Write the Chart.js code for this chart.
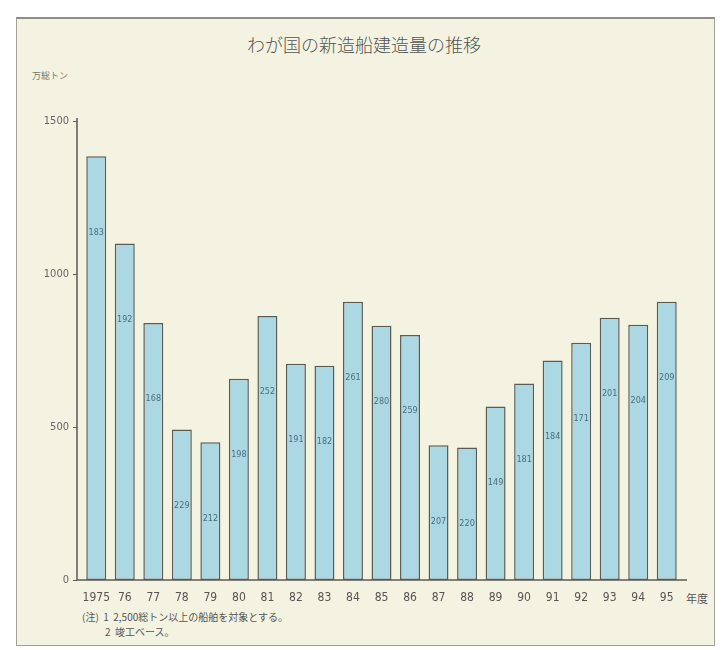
<!DOCTYPE html>
<html><head><meta charset="utf-8">
<script src="https://cdn.jsdelivr.net/npm/chart.js@4/dist/chart.umd.min.js"></script>
<style>
html,body{margin:0;padding:0;background:#fff;width:722px;height:650px;overflow:hidden;font-family:"Noto Sans CJK JP",sans-serif;}
#frame{position:absolute;left:16px;top:17px;width:699px;height:629px;background:#f4f3e1;border:1px solid #a2a298;border-top:2px solid #8e8e86;box-sizing:border-box;}
#wrap{position:absolute;left:0;top:0;width:722px;height:650px;}
.t{position:absolute;white-space:nowrap;color:#555;line-height:1;}
#title{left:0;width:728px;top:35px;text-align:center;font-size:18px;color:#555;font-weight:300;}
#unit{left:32px;top:71px;font-size:9px;color:#777;}
#nendo{left:686px;top:593px;font-size:11px;color:#555;}
#n1{left:82px;top:612px;font-size:10px;}
#n2{left:105px;top:627px;font-size:10px;}
</style></head>
<body>
<div id="frame"></div>
<div class="t" id="title">わが国の新造船建造量の推移</div>
<div class="t" id="unit">万総トン</div>
<div class="t" id="nendo">年度</div>
<div class="t" id="n1">(注)&nbsp; 1&nbsp; 2,500総トン以上の船舶を対象とする。</div>
<div class="t" id="n2">2&nbsp; 竣工ベース。</div>
<div id="wrap"><canvas id="c" width="722" height="650"></canvas></div>
<script>
const years = ['1975','76','77','78','79','80','81','82','83','84','85','86','87','88','89','90','91','92','93','94','95'];
const tonnage = [1385,1100,840,492,450,658,863,707,700,909,831,801,440,433,567,642,717,775,857,834,909];
const shipCounts = ['183','192','168','229','212','198','252','191','182','261','280','259','207','220','149','181','184','171','201','204','209'];
const yTickValues = [0,500,1000,1500];
const yTickLabels = ['0','500','1000','1500'];

const axisPlugin = {
  id: 'axisLines',
  afterDatasetsDraw(chart) {
    const ctx = chart.ctx;
    const y = chart.scales.y;
    const area = chart.chartArea;
    const axX = area.left - 5;
    ctx.save();
    ctx.strokeStyle = '#5a5a55';
    ctx.lineWidth = 1.5;
    ctx.beginPath();
    ctx.moveTo(axX, y.getPixelForValue(1500) - 3);
    ctx.lineTo(axX, y.getPixelForValue(0));
    ctx.lineTo(area.right + 6, y.getPixelForValue(0));
    ctx.stroke();
    ctx.lineWidth = 1;
    yTickValues.forEach(v => {
      const py = Math.round(y.getPixelForValue(v)) + 0.5;
      ctx.beginPath();
      ctx.moveTo(axX - 4, py);
      ctx.lineTo(axX, py);
      ctx.stroke();
    });
    const meta = chart.getDatasetMeta(0);
    ctx.fillStyle = '#4d6c80';
    ctx.font = '9px "DejaVu Sans Condensed", sans-serif';
    ctx.textAlign = 'center';
    ctx.textBaseline = 'middle';
    meta.data.forEach((bar, i) => {
      ctx.fillText(shipCounts[i], bar.x, bar.y + 76);
    });
    ctx.restore();
  }
};

new Chart(document.getElementById('c'), {
  type: 'bar',
  data: {
    labels: years,
    datasets: [{
      data: tonnage,
      backgroundColor: '#acd8e3',
      borderColor: '#5b5d55',
      borderWidth: 1.5,
      borderSkipped: false,
      barPercentage: 0.70,
      categoryPercentage: 1.0
    }]
  },
  options: {
    responsive: false,
    animation: false,
    events: [],
    layout: { padding: { left: 0, right: 41, top: 121, bottom: 0 } },
    plugins: { legend: { display: false }, title: { display: false }, tooltip: { enabled: false } },
    scales: {
      x: {
        grid: { display: false, drawTicks: false },
        border: { display: false },
        ticks: {
          color: '#555', padding: 11, maxRotation: 0, autoSkip: false,
          font: { family: '"DejaVu Sans Condensed", sans-serif', size: 12 }
        },
        afterFit(s) { s.height = 70; }
      },
      y: {
        min: 0, max: 1500,
        afterBuildTicks(s) { s.ticks = yTickValues.map(v => ({ value: v })); },
        grid: { display: false, drawTicks: false },
        border: { display: false },
        ticks: {
          color: '#666', padding: 13,
          callback: (v) => yTickLabels[yTickValues.indexOf(v)],
          font: { family: '"DejaVu Sans Condensed", sans-serif', size: 11 }
        },
        afterFit(s) { s.width = 82; }
      }
    }
  },
  plugins: [axisPlugin]
});
</script>
</body></html>
